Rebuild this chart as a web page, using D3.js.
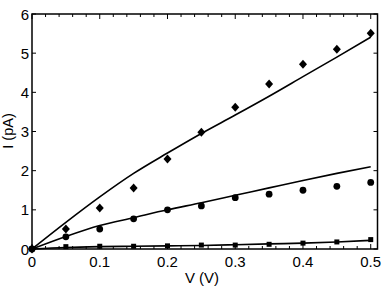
<!DOCTYPE html>
<html><head><meta charset="utf-8">
<script src="https://cdn.jsdelivr.net/npm/d3@7"></script>
<style>html,body{margin:0;padding:0;background:#fff;}svg{display:block;}</style>
</head><body>
<svg id="c" width="388" height="290"></svg>
<script>
const voltages = [0, 0.05, 0.1, 0.15, 0.2, 0.25, 0.3, 0.35, 0.4, 0.45, 0.5];
const diamondData = [0, 0.51, 1.05, 1.56, 2.30, 2.98, 3.62, 4.21, 4.72, 5.10, 5.51];
const circleData  = [0, 0.31, 0.51, 0.77, 1.00, 1.10, 1.31, 1.40, 1.50, 1.60, 1.70];
const squareData  = [0, 0.06, 0.07, 0.07, 0.08, 0.10, 0.10, 0.12, 0.15, 0.18, 0.24];
const fitTop    = [0, 0.68, 1.33, 1.93, 2.45, 2.95, 3.42, 3.90, 4.40, 4.90, 5.41];
const fitMid    = [0, 0.32, 0.60, 0.80, 1.00, 1.18, 1.37, 1.56, 1.75, 1.93, 2.10];
const fitBottom = [0, 0.04, 0.06, 0.07, 0.08, 0.09, 0.11, 0.13, 0.15, 0.18, 0.22];
const xTicks = [0, 0.1, 0.2, 0.3, 0.4, 0.5];
const yTicks = [0, 1, 2, 3, 4, 5, 6];
const xLabel = "V (V)";
const yLabel = "I (pA)";

const svg = d3.select("#c");
const L = 32, R = 377.5, T = 14, B = 249;
const x = d3.scaleLinear().domain([0, 0.51]).range([L, R]);
const y = d3.scaleLinear().domain([0, 6]).range([B, T]);
const font = "'Liberation Sans', Arial, sans-serif";

// frame
svg.append("rect").attr("x", L).attr("y", T).attr("width", R - L).attr("height", B - T)
  .attr("fill", "none").attr("stroke", "#000").attr("stroke-width", 1.5);

// ticks
const xMinor = d3.range(0, 0.51, 0.02).map(v => +v.toFixed(2));
const g = svg.append("g").attr("stroke", "#000").attr("stroke-width", 1);
xMinor.forEach(v => {
  const major = Math.abs(v * 10 - Math.round(v * 10)) < 1e-6;
  const len = major ? 5 : 3;
  g.append("line").attr("x1", x(v)).attr("x2", x(v)).attr("y1", B).attr("y2", B - len);
  g.append("line").attr("x1", x(v)).attr("x2", x(v)).attr("y1", T).attr("y2", T + len);
});
yTicks.forEach(v => {
  g.append("line").attr("x1", L).attr("x2", L + 4).attr("y1", y(v)).attr("y2", y(v));
  g.append("line").attr("x1", R).attr("x2", R - 4).attr("y1", y(v)).attr("y2", y(v));
});

// tick labels
svg.append("g").selectAll("text").data(xTicks).join("text")
  .attr("x", d => x(d)).attr("y", 267).attr("text-anchor", "middle")
  .attr("font-family", font).attr("font-size", 15).text(d => d === 0 ? "0" : d3.format(".1f")(d));
svg.append("g").selectAll("text").data(yTicks).join("text")
  .attr("x", 29).attr("y", d => y(d) + 5.5).attr("text-anchor", "end")
  .attr("font-family", font).attr("font-size", 15).text(d => d);

// axis labels
svg.append("text").attr("x", 202).attr("y", 283).attr("text-anchor", "middle")
  .attr("font-family", font).attr("font-size", 15).text(xLabel);
svg.append("text").attr("transform", "translate(13,131) rotate(-90)").attr("text-anchor", "middle")
  .attr("font-family", font).attr("font-size", 14.5).text(yLabel);

// fit lines
const line = d3.line().x((d, i) => x(voltages[i])).y(d => y(d)).curve(d3.curveMonotoneX);
[fitTop, fitMid, fitBottom].forEach(arr => {
  svg.append("path").attr("d", line(arr)).attr("fill", "none").attr("stroke", "#000").attr("stroke-width", 1.6);
});

// markers
svg.append("g").selectAll("path").data(diamondData).join("path")
  .attr("transform", (d, i) => `translate(${x(voltages[i])},${y(d)})`)
  .attr("d", "M0,-4.5L4,0L0,4.5L-4,0Z").attr("fill", "#000");
svg.append("g").selectAll("circle").data(circleData).join("circle")
  .attr("cx", (d, i) => x(voltages[i])).attr("cy", d => y(d)).attr("r", 3.4).attr("fill", "#000");
svg.append("g").selectAll("rect").data(squareData).join("rect")
  .attr("x", (d, i) => x(voltages[i]) - 2.5).attr("y", d => y(d) - 2.5)
  .attr("width", 5).attr("height", 5).attr("fill", "#000");
</script>
</body></html>
